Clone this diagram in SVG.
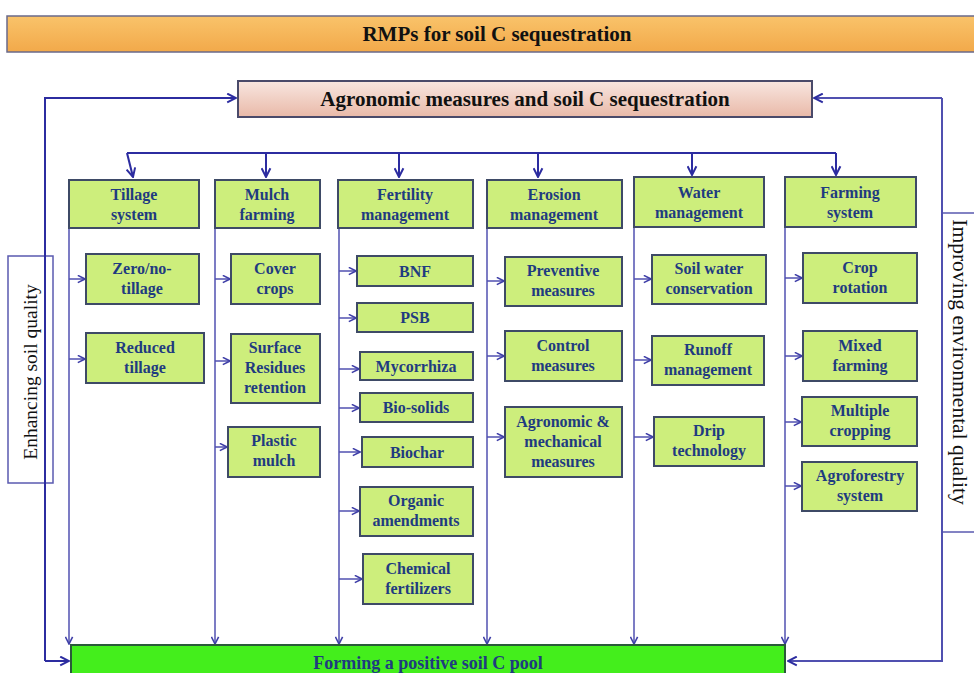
<svg xmlns="http://www.w3.org/2000/svg" width="974" height="673" viewBox="0 0 974 673">
<defs>
<linearGradient id="gOrange" x1="0" y1="0" x2="0" y2="1"><stop offset="0" stop-color="#f9c36a"/><stop offset="1" stop-color="#f2a94a"/></linearGradient>
<linearGradient id="gPink" x1="0" y1="0" x2="0" y2="1"><stop offset="0" stop-color="#f8e6e0"/><stop offset="1" stop-color="#e9b9a8"/></linearGradient>
<marker id="ah" viewBox="0 0 10 10" refX="9" refY="5" markerWidth="9" markerHeight="9" markerUnits="userSpaceOnUse" orient="auto"><path d="M1,1 L9,5 L1,9" fill="none" stroke="#4040a8" stroke-width="1.8"/></marker>
<marker id="ah2" viewBox="0 0 10 10" refX="9" refY="5" markerWidth="11" markerHeight="11" markerUnits="userSpaceOnUse" orient="auto"><path d="M1,1 L9,5 L1,9" fill="none" stroke="#2c2ca0" stroke-width="1.8"/></marker>
</defs>
<style>
.bx{fill:#cdee7c;stroke:#3e4a66;stroke-width:2}
.t{font-family:"Liberation Serif","Times New Roman",serif;font-weight:bold;font-size:16px;fill:#1f3b80;text-anchor:middle}
.big{font-family:"Liberation Serif","Times New Roman",serif;font-weight:bold;font-size:21px;fill:#111;text-anchor:middle}
.side{font-family:"Liberation Serif","Times New Roman",serif;font-size:19.5px;fill:#111;text-anchor:middle}
.c{fill:none;stroke:#5050b0;stroke-width:1.5}
.o{fill:none;stroke:#2c2ca0;stroke-width:2}
</style>
<rect width="974" height="673" fill="#ffffff"/>

<g id="title">
<rect x="7" y="16" width="972" height="36" fill="url(#gOrange)" stroke="#6a6a8a" stroke-width="1.5"/>
<text class="big" x="497" y="41">RMPs for soil C sequestration</text>
</g>

<g id="side-left">
<rect x="8" y="256" width="45" height="227" fill="#ffffff" stroke="#5a5ab0" stroke-width="1.5"/>
<text class="side" transform="translate(37,372) rotate(-90)">Enhancing soil quality</text>
</g>
<g id="side-right">
<rect x="942" y="213" width="40" height="319" fill="#ffffff" stroke="#5a5ab0" stroke-width="1.5"/>
<text class="side" style="font-size:21.5px" transform="translate(953,362) rotate(90)">Improving environmental quality</text>
</g>

<g id="connectors">
<path class="o" d="M45,661 L45,98 L236,98" marker-end="url(#ah2)"/>
<path class="o" d="M45,661 L69,661" marker-end="url(#ah2)"/>
<path class="c" style="stroke-width:2" d="M942,98 L814,98" marker-end="url(#ah2)"/>
<path class="c" style="stroke-width:2" d="M942,98 L942,661 L788,661" marker-end="url(#ah2)"/>
<path class="o" d="M127,153 L836,153"/>
<path class="o" d="M127,153 L133,177" marker-end="url(#ah2)"/>
<path class="o" d="M266,153 L266,177" marker-end="url(#ah2)"/>
<path class="o" d="M399,153 L399,177" marker-end="url(#ah2)"/>
<path class="o" d="M538,153 L538,177" marker-end="url(#ah2)"/>
<path class="o" d="M692,153 L692,175" marker-end="url(#ah2)"/>
<path class="o" d="M836,153 L836,175" marker-end="url(#ah2)"/>
<path class="c" d="M69,228 L69,644" marker-end="url(#ah)"/>
<path class="c" d="M215,228 L215,644" marker-end="url(#ah)"/>
<path class="c" d="M339,228 L339,644" marker-end="url(#ah)"/>
<path class="c" d="M487,228 L487,644" marker-end="url(#ah)"/>
<path class="c" d="M634,227 L634,644" marker-end="url(#ah)"/>
<path class="c" d="M785,227 L785,644" marker-end="url(#ah)"/>
<path class="c" d="M69,279 L85,279" marker-end="url(#ah)"/>
<path class="c" d="M69,359 L85,359" marker-end="url(#ah)"/>
<path class="c" d="M215,279 L230,279" marker-end="url(#ah)"/>
<path class="c" d="M215,361 L230,361" marker-end="url(#ah)"/>
<path class="c" d="M215,447 L227,447" marker-end="url(#ah)"/>
<path class="c" d="M339,271 L356,271" marker-end="url(#ah)"/>
<path class="c" d="M339,318 L356,318" marker-end="url(#ah)"/>
<path class="c" d="M339,369 L359,369" marker-end="url(#ah)"/>
<path class="c" d="M339,408 L359,408" marker-end="url(#ah)"/>
<path class="c" d="M339,452 L360,452" marker-end="url(#ah)"/>
<path class="c" d="M339,511 L359,511" marker-end="url(#ah)"/>
<path class="c" d="M339,579 L362,579" marker-end="url(#ah)"/>
<path class="c" d="M487,281 L504,281" marker-end="url(#ah)"/>
<path class="c" d="M487,356 L504,356" marker-end="url(#ah)"/>
<path class="c" d="M487,437 L504,437" marker-end="url(#ah)"/>
<path class="c" d="M634,279 L651,279" marker-end="url(#ah)"/>
<path class="c" d="M634,360 L651,360" marker-end="url(#ah)"/>
<path class="c" d="M634,437 L653,437" marker-end="url(#ah)"/>
<path class="c" d="M785,278 L802,278" marker-end="url(#ah)"/>
<path class="c" d="M785,356 L802,356" marker-end="url(#ah)"/>
<path class="c" d="M785,422 L801,422" marker-end="url(#ah)"/>
<path class="c" d="M785,486 L801,486" marker-end="url(#ah)"/>
</g>

<g id="agronomic">
<rect x="238" y="81" width="574" height="36" fill="url(#gPink)" stroke="#4a4a6a" stroke-width="2"/>
<text class="big" x="525" y="106">Agronomic measures and soil C sequestration</text>
</g>

<g id="tillage-system"><rect class="bx" x="69" y="180" width="130" height="48"/><text class="t" x="134" y="200">Tillage</text><text class="t" x="134" y="220">system</text></g>
<g id="mulch-farming"><rect class="bx" x="215" y="180" width="105" height="48"/><text class="t" x="267" y="200">Mulch</text><text class="t" x="267" y="220">farming</text></g>
<g id="fertility-management"><rect class="bx" x="338" y="180" width="135" height="48"/><text class="t" x="405" y="200">Fertility</text><text class="t" x="405" y="220">management</text></g>
<g id="erosion-management"><rect class="bx" x="487" y="180" width="135" height="48"/><text class="t" x="554" y="200">Erosion</text><text class="t" x="554" y="220">management</text></g>
<g id="water-management"><rect class="bx" x="634" y="177" width="130" height="50"/><text class="t" x="699" y="198">Water</text><text class="t" x="699" y="218">management</text></g>
<g id="farming-system"><rect class="bx" x="785" y="177" width="131" height="50"/><text class="t" x="850" y="198">Farming</text><text class="t" x="850" y="218">system</text></g>

<g id="zero-tillage"><rect class="bx" x="86" y="254" width="113" height="50"/><text class="t" x="142" y="274">Zero/no-</text><text class="t" x="142" y="294">tillage</text></g>
<g id="reduced-tillage"><rect class="bx" x="86" y="333" width="118" height="50"/><text class="t" x="145" y="353">Reduced</text><text class="t" x="145" y="373">tillage</text></g>

<g id="cover-crops"><rect class="bx" x="231" y="254" width="89" height="50"/><text class="t" x="275" y="274">Cover</text><text class="t" x="275" y="294">crops</text></g>
<g id="surface-residues"><rect class="bx" x="231" y="334" width="89" height="69"/><text class="t" x="275" y="353">Surface</text><text class="t" x="275" y="373">Residues</text><text class="t" x="275" y="393">retention</text></g>
<g id="plastic-mulch"><rect class="bx" x="228" y="427" width="92" height="50"/><text class="t" x="274" y="446">Plastic</text><text class="t" x="274" y="466">mulch</text></g>

<g id="bnf"><rect class="bx" x="357" y="256" width="116" height="30"/><text class="t" x="415" y="277">BNF</text></g>
<g id="psb"><rect class="bx" x="357" y="303" width="116" height="29"/><text class="t" x="415" y="323">PSB</text></g>
<g id="mycorrhiza"><rect class="bx" x="360" y="352" width="113" height="28"/><text class="t" x="416" y="372">Mycorrhiza</text></g>
<g id="bio-solids"><rect class="bx" x="360" y="393" width="113" height="29"/><text class="t" x="416" y="413">Bio-solids</text></g>
<g id="biochar"><rect class="bx" x="362" y="437" width="111" height="30"/><text class="t" x="417" y="458">Biochar</text></g>
<g id="organic-amendments"><rect class="bx" x="360" y="487" width="113" height="49"/><text class="t" x="416" y="506">Organic</text><text class="t" x="416" y="526">amendments</text></g>
<g id="chemical-fertilizers"><rect class="bx" x="363" y="554" width="110" height="50"/><text class="t" x="418" y="574">Chemical</text><text class="t" x="418" y="594">fertilizers</text></g>

<g id="preventive-measures"><rect class="bx" x="505" y="257" width="117" height="49"/><text class="t" x="563" y="276">Preventive</text><text class="t" x="563" y="296">measures</text></g>
<g id="control-measures"><rect class="bx" x="505" y="331" width="117" height="50"/><text class="t" x="563" y="351">Control</text><text class="t" x="563" y="371">measures</text></g>
<g id="agronomic-mechanical"><rect class="bx" x="505" y="407" width="117" height="70"/><text class="t" x="563" y="427">Agronomic &amp;</text><text class="t" x="563" y="447">mechanical</text><text class="t" x="563" y="467">measures</text></g>

<g id="soil-water-conservation"><rect class="bx" x="652" y="255" width="114" height="49"/><text class="t" x="709" y="274">Soil water</text><text class="t" x="709" y="294">conservation</text></g>
<g id="runoff-management"><rect class="bx" x="652" y="336" width="112" height="49"/><text class="t" x="708" y="355">Runoff</text><text class="t" x="708" y="375">management</text></g>
<g id="drip-technology"><rect class="bx" x="654" y="417" width="110" height="49"/><text class="t" x="709" y="436">Drip</text><text class="t" x="709" y="456">technology</text></g>

<g id="crop-rotation"><rect class="bx" x="803" y="253" width="114" height="50"/><text class="t" x="860" y="273">Crop</text><text class="t" x="860" y="293">rotation</text></g>
<g id="mixed-farming"><rect class="bx" x="803" y="331" width="114" height="50"/><text class="t" x="860" y="351">Mixed</text><text class="t" x="860" y="371">farming</text></g>
<g id="multiple-cropping"><rect class="bx" x="802" y="397" width="115" height="49"/><text class="t" x="860" y="416">Multiple</text><text class="t" x="860" y="436">cropping</text></g>
<g id="agroforestry-system"><rect class="bx" x="802" y="462" width="115" height="49"/><text class="t" x="860" y="481">Agroforestry</text><text class="t" x="860" y="501">system</text></g>

<g id="forming-pool">
<rect x="71" y="645" width="714" height="34" fill="#44ee1c" stroke="#2a5a3a" stroke-width="2"/>
<text class="t" x="428" y="669" style="font-size:18px">Forming a positive soil C pool</text>
</g>
</svg>
